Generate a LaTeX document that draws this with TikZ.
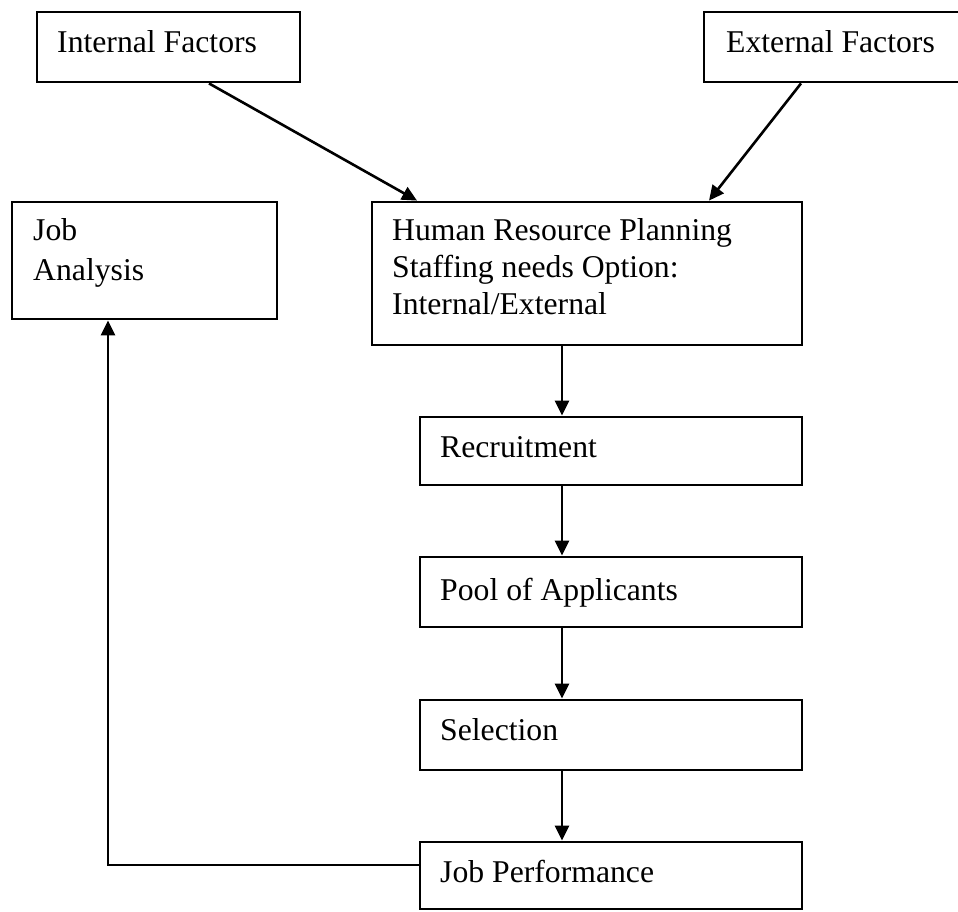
\documentclass[tikz,border=0pt]{standalone}
\usepackage{fontspec}
\setmainfont{Liberation Serif}
\usetikzlibrary{arrows.meta}
\begin{document}
\begin{tikzpicture}[x=1pt,y=-1pt,
  box/.style={draw, line width=2.8pt, inner sep=0pt, rectangle},
  lbl/.style={anchor=base west, inner sep=0pt, font=\fontsize{31.7}{37}\selectfont},
  arr/.style={line width=2.6pt, -{Triangle[length=15pt,width=14pt]}}]
\clip (0,0) rectangle (958,911);
\fill[white] (0,0) rectangle (958,911);
% boxes
\node[box, minimum width=263pt, minimum height=70pt] (inf) at (168.5,47) {};
\node[box, minimum width=271pt, minimum height=70pt] (exf) at (839.5,47) {};
\node[box, minimum width=265pt, minimum height=117pt] (ja) at (144.5,260.5) {};
\node[box, minimum width=430pt, minimum height=143pt] (hrp) at (587,273.5) {};
\node[box, minimum width=382pt, minimum height=68pt] (rec) at (611,451) {};
\node[box, minimum width=382pt, minimum height=70pt] (pool) at (611,592) {};
\node[box, minimum width=382pt, minimum height=70pt] (sel) at (611,735) {};
\node[box, minimum width=382pt, minimum height=67pt] (jp) at (611,875.5) {};
% texts
\node[lbl] (tinf) at (57,52) {Internal Factors};
\node[lbl] (texf) at (726,52) {External Factors};
\node[lbl] (tja1) at (33,240) {Job};
\node[lbl] (tja2) at (33,280) {Analysis};
\node[lbl] (thrp1) at (392,240) {Human Resource Planning};
\node[lbl] (thrp2) at (392,277) {Staffing needs Option:};
\node[lbl] (thrp3) at (392,314) {Internal/External};
\node[lbl] (trec) at (440,457) {Recruitment};
\node[lbl] (tpool) at (440,600) {Pool of Applicants};
\node[lbl] (tsel) at (440,740) {Selection};
\node[lbl] (tjp) at (440,882) {Job Performance};
% connectors
\draw[arr] ([xshift=40.5pt]inf.south) -- ([xshift=-170pt]hrp.north);
\draw[arr] ([xshift=-38.5pt]exf.south) -- ([xshift=122pt]hrp.north);
\draw[arr] ([xshift=-25pt]hrp.south) -- ([xshift=-25pt]hrp.south |- rec.north);
\draw[arr] ([xshift=-49pt]rec.south) -- ([xshift=-49pt]pool.north);
\draw[arr] ([xshift=-49pt]pool.south) -- ([xshift=-49pt]sel.north);
\draw[arr] ([xshift=-49pt]sel.south) -- ([xshift=-49pt]jp.north);
\draw[arr] ([yshift=10.5pt]jp.west) -| ([xshift=-36.5pt]ja.south);
\end{tikzpicture}
\end{document}
